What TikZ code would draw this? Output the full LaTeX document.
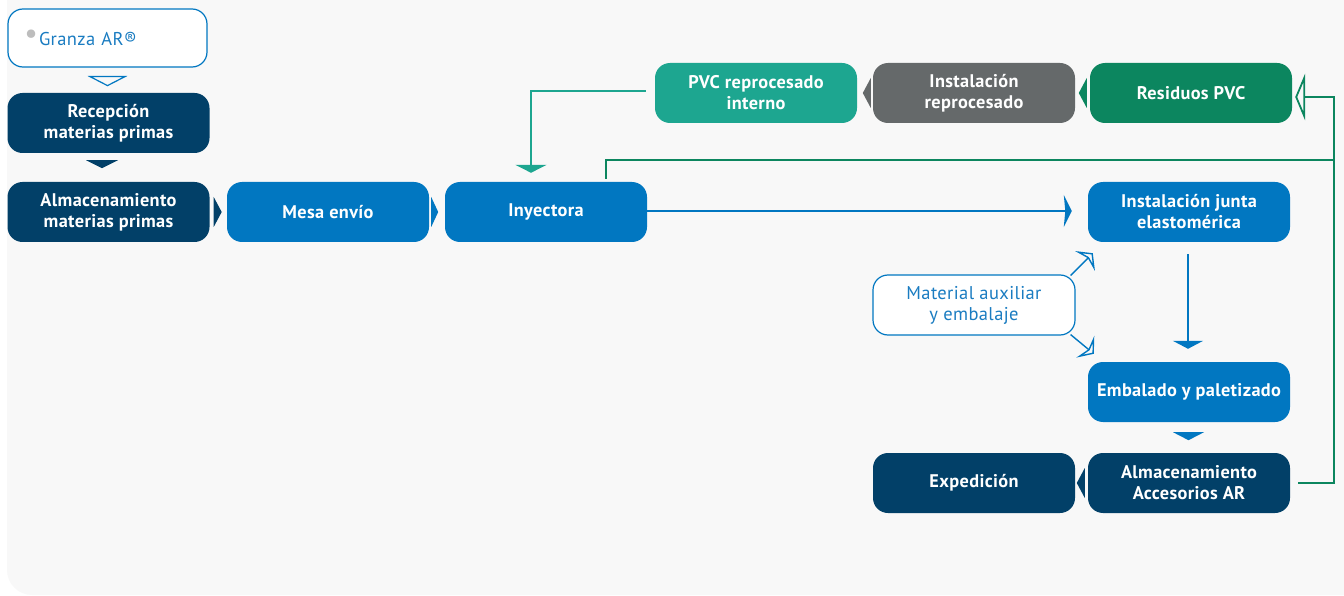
\documentclass[tikz,border=0pt]{standalone}
\usepackage{fontspec}
\setmainfont{PT Sans}[LetterSpace=2]
\usetikzlibrary{arrows.meta,calc}
\definecolor{navy}{HTML}{024068}
\definecolor{bluebox}{HTML}{0177C1}
\definecolor{tealbox}{HTML}{1DA690}
\definecolor{graybox}{HTML}{65696A}
\definecolor{greenbox}{HTML}{0C865F}
\definecolor{bgcol}{HTML}{F8F8F8}
\definecolor{dotgray}{HTML}{BDBDBD}
\definecolor{textblue}{HTML}{1A7CC1}
\tikzset{
  procbox/.style={rounded corners=15pt, minimum width=202pt, minimum height=60pt,
    inner sep=0pt, align=center, text=white,
    font=\bfseries\fontsize{18.3}{21}\selectfont},
  navybox/.style={procbox, fill=navy},
  bluefill/.style={procbox, fill=bluebox},
  tealfill/.style={procbox, fill=tealbox},
  grayfill/.style={procbox, fill=graybox},
  greenfill/.style={procbox, fill=greenbox},
  inbox/.style={procbox, fill=white, draw=bluebox, line width=1.2pt, text=textblue,
    font=\mdseries\fontsize{18.5}{21}\selectfont},
  blueline/.style={draw=bluebox, line width=2pt},
  greenline/.style={draw=greenbox, line width=2.6pt},
  tealline/.style={draw=tealbox, line width=2.6pt},
}
\begin{document}
\begin{tikzpicture}[x=1pt,y=-1pt]
\useasboundingbox (0,0) rectangle (1344,596);
\clip (0,0) rectangle (1344,596);
\fill[bgcol, rounded corners=25pt] (7,-40) rectangle (1390,595);

% nodes
\node[inbox, minimum width=199pt, minimum height=58pt, text width=172pt, align=left] (granza) at (107.5,38)
  {\hspace{17.5pt}\llap{\textcolor{dotgray}{\raisebox{1.5pt}{\fontsize{30}{30}\selectfont\textbullet}}\hspace{1pt}}Granza AR®};
\node[navybox] (recep) at (108.5,123) {Recepción\\materias primas};
\node[navybox] (almmp) at (108.5,212) {Almacenamiento\\materias primas};
\node[bluefill] (mesa) at (328,212) {Mesa envío};
\node[bluefill] (iny) at (546,212) {Inyectora};
\node[bluefill] (junta) at (1189,212) {Instalación junta\\elastomérica};
\node[bluefill] (emb) at (1189,392) {Embalado y paletizado};
\node[navybox] (accar) at (1189,483) {Almacenamiento\\Accesorios AR};
\node[navybox] (exped) at (974,483) {Expedición};
\node[inbox] (matx) at (974,305) {Material auxiliar\\y embalaje};
\node[tealfill] (pvc) at (756,93) {PVC reprocesado\\interno};
\node[grayfill] (instrep) at (974,93) {Instalación\\reprocesado};
\node[greenfill] (resid) at (1191,93) {Residuos PVC};

% triangles between adjacent boxes
\draw[bluebox, line width=1.2pt, line join=miter] ($(granza.south)+(-17.5,9)$) -- ++(35,0) -- ($(granza.south)+(0,18)$) -- cycle;
\fill[navy] ($(recep.south)+(-22.5,7)$) -- ++(32,0) -- ($(recep.south)+(-6.5,15)$) -- cycle;
\fill[navy] ($(almmp.east)+(4,-15)$) -- ++(8,15) -- ++(-8,15) -- cycle;
\fill[bluebox] ($(mesa.east)+(2,-15)$) -- ++(7,15) -- ++(-7,15) -- cycle;
\fill[bluebox] ($(emb.south)+(-16,10)$) -- ++(31,0) -- ($(emb.south)+(-0.5,18)$) -- cycle;
\fill[navy] ($(accar.west)+(-3,-15)$) -- ++(-8,15) -- ++(8,15) -- cycle;
\fill[graybox] ($(instrep.west)+(-2,-15)$) -- ++(-8,15) -- ++(8,15) -- cycle;
\fill[greenbox] ($(resid.west)+(-3,-15)$) -- ++(-8,15) -- ++(8,15) -- cycle;

% connectors
\draw[blueline, -{Stealth[length=8pt, width=32pt, inset=1.5pt]}] ($(iny.east)+(0,-1)$) -- ($(junta.west)+(-16,-1)$);
\draw[blueline, -{Triangle[length=8pt, width=30pt]}, shorten <=12pt, shorten >=13pt] ($(junta.south)+(-1,0)$) -- ($(emb.north)+(-1,0)$);
\draw[bluebox, line width=1.4pt, -{Stealth[open, length=11pt, width=28pt, inset=4pt]}]
  ($(matx.north east)+(-5,1)$) -- ($(junta.south west)+(5,11)$);
\draw[bluebox, line width=1.4pt, -{Stealth[open, length=11pt, width=28pt, inset=4pt]}]
  ($(matx.south east)+(-5,-1)$) -- ($(emb.north west)+(6,-8)$);

\draw[tealline, -{Triangle[length=8pt, width=31pt]}] ($(pvc.west)+(-9,-2)$) -| ($(iny.north)+(-15,-9)$);

\coordinate (loopx) at (1334,0);
\coordinate (resin) at ($(resid.east)+(12,4)$);
\draw[greenline] ($(iny.north)+(60,-3)$) |- (loopx |- 0,160);
\draw[greenline, line join=miter] ($(accar.east)+(8,0)$) -| (loopx |- resin) -- (resin);
\draw[greenbox, line width=1.8pt, line join=miter] ($(resin)+(0,-19)$) -- ($(resin)+(-8,0)$) -- ($(resin)+(0,19)$) -- cycle;
\end{tikzpicture}
\end{document}
